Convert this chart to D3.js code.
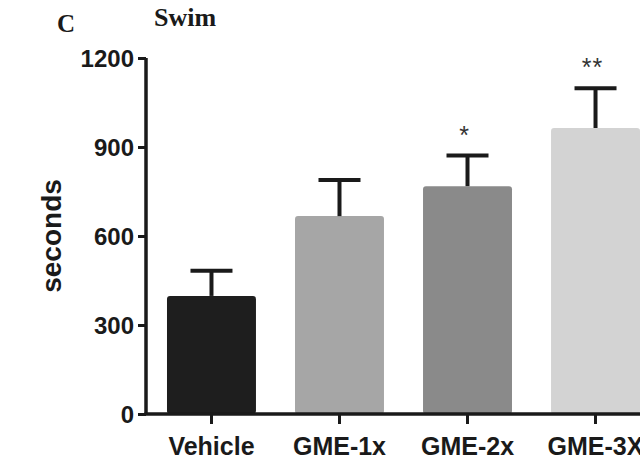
<!DOCTYPE html>
<html><head><meta charset="utf-8">
<script src="https://d3js.org/d3.v7.min.js"></script>
<style>body{margin:0;background:#fff}svg{display:block}</style>
</head><body>
<script>
const categories = ["Vehicle", "GME-1x", "GME-2x", "GME-3X"];
const means = [398, 667, 768, 964];
const sems = [85, 122, 103, 134];
const significance = ["", "", "*", "**"];
const barColors = ["#1e1e1e", "#a6a6a6", "#8a8a8a", "#d3d3d3"];
const yTicks = [0, 300, 600, 900, 1200];

const W = 640, H = 461;
const svg = d3.select("body").append("svg").attr("width", W).attr("height", H);

const x = d3.scaleBand().domain(categories).range([146, 661]).paddingInner(0.305).paddingOuter(0.164);
const y = d3.scaleLinear().domain([0, 1200]).range([414, 58]);

// bars
svg.selectAll("rect.bar").data(categories).enter().append("rect")
  .attr("x", d => x(d)).attr("width", x.bandwidth())
  .attr("y", (d, i) => y(means[i])).attr("height", (d, i) => y(0) - y(means[i]))
  .attr("rx", 3).attr("fill", (d, i) => barColors[i]);

// error bars
const capW = 42;
const eg = svg.append("g").attr("stroke", "#1a1a1a").attr("stroke-width", 4);
categories.forEach((c, i) => {
  const cx = x(c) + x.bandwidth() / 2;
  eg.append("line").attr("x1", cx).attr("x2", cx).attr("y1", y(means[i])).attr("y2", y(means[i] + sems[i]));
  eg.append("line").attr("x1", cx - capW / 2).attr("x2", cx + capW / 2).attr("y1", y(means[i] + sems[i])).attr("y2", y(means[i] + sems[i]));
  if (significance[i]) {
    svg.append("text").attr("x", cx - 3).attr("y", y(means[i] + sems[i]) - 12)
      .attr("text-anchor", "middle").attr("font-family", "Liberation Sans, Arial, sans-serif")
      .attr("font-size", 25).attr("fill", "#333").attr("letter-spacing", 1).text(significance[i]);
  }
});

// y axis
const yAxis = svg.append("g").attr("transform", "translate(146,0)")
  .call(d3.axisLeft(y).tickValues(yTicks).tickFormat(d3.format("d")).tickSize(8).tickPadding(4).tickSizeOuter(0));
yAxis.select(".domain").attr("stroke", "#1a1a1a").attr("stroke-width", 3.5).attr("d", `M0,${y(0)}V${y(1200)}`);
yAxis.selectAll(".tick line").attr("stroke", "#1a1a1a").attr("stroke-width", 3);
yAxis.selectAll(".tick text").attr("font-family", "Liberation Sans, Arial, sans-serif")
  .attr("font-weight", "bold").attr("font-size", 24).attr("fill", "#1a1a1a").attr("dy", "0.35em");

// x axis
const xAxis = svg.append("g").attr("transform", `translate(0,${y(0)})`)
  .call(d3.axisBottom(x).tickSize(10).tickPadding(13).tickSizeOuter(0));
xAxis.select(".domain").attr("stroke", "#1a1a1a").attr("stroke-width", 3.5).attr("d", `M144.5,0H${W}`);
xAxis.selectAll(".tick line").attr("stroke", "#1a1a1a").attr("stroke-width", 3);
xAxis.selectAll(".tick text").attr("font-family", "Liberation Sans, Arial, sans-serif")
  .attr("font-weight", "bold").attr("font-size", 25).attr("fill", "#1a1a1a");

// y label
svg.append("text").attr("transform", "translate(61,236) rotate(-90)")
  .attr("text-anchor", "middle").attr("font-family", "Liberation Sans, Arial, sans-serif")
  .attr("font-weight", "bold").attr("font-size", 28).attr("fill", "#1a1a1a").text("seconds");

// panel letter and title
svg.append("text").attr("x", 57).attr("y", 32).attr("font-family", "Liberation Serif, Times New Roman, serif")
  .attr("font-weight", "bold").attr("font-size", 25).attr("fill", "#1a1a1a").text("C");
svg.append("text").attr("x", 154).attr("y", 26).attr("font-family", "Liberation Serif, Times New Roman, serif")
  .attr("font-weight", "bold").attr("font-size", 26).attr("fill", "#1a1a1a").text("Swim");
</script>
</body></html>
